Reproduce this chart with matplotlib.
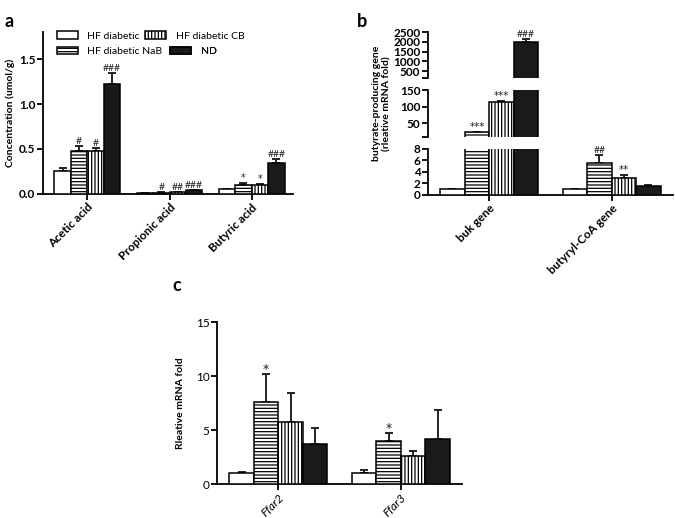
import matplotlib
matplotlib.use("Agg")
import matplotlib.pyplot as plt
import numpy as np

plt.rcParams['font.family'] = ['Lato', 'DejaVu Sans']
plt.rcParams['hatch.linewidth'] = 0.9

groups = ["HF diabetic", "HF diabetic NaB", "HF diabetic CB", "ND"]
hatches = ["", "-----", "|||||", ""]
faces = ["white", "white", "white", "#1a1a1a"]

# Panel a
a_cats = ["Acetic acid", "Propionic acid", "Butyric acid"]
a_vals = {
    "HF diabetic": [0.25, 0.01, 0.05],
    "HF diabetic NaB": [0.48, 0.015, 0.10],
    "HF diabetic CB": [0.48, 0.02, 0.10],
    "ND": [1.22, 0.04, 0.345],
}
a_err = {
    "HF diabetic": [0.04, 0.002, 0.01],
    "HF diabetic NaB": [0.05, 0.003, 0.02],
    "HF diabetic CB": [0.035, 0.003, 0.012],
    "ND": [0.12, 0.006, 0.04],
}
a_marks = {
    "HF diabetic": ["", "", ""],
    "HF diabetic NaB": ["#", "#", "*"],
    "HF diabetic CB": ["#", "##", "*"],
    "ND": ["###", "###", "###"],
}

# Panel b
b_cats = ["buk gene", "butyryl-CoA gene"]
b_vals = {
    "HF diabetic": [1.0, 1.0],
    "HF diabetic NaB": [22, 5.6],
    "HF diabetic CB": [114, 2.9],
    "ND": [1980, 1.5],
}
b_err = {
    "HF diabetic": [0.1, 0.12],
    "HF diabetic NaB": [1.5, 1.4],
    "HF diabetic CB": [3, 0.5],
    "ND": [150, 0.2],
}
b_marks = {
    "HF diabetic": ["", ""],
    "HF diabetic NaB": ["***", "##"],
    "HF diabetic CB": ["***", "**"],
    "ND": ["###", ""],
}

# Panel c
c_cats = ["Ffar2", "Ffar3"]
c_vals = {
    "HF diabetic": [1.05, 1.05],
    "HF diabetic NaB": [7.6, 3.95],
    "HF diabetic CB": [5.75, 2.55],
    "ND": [3.75, 4.15],
}
c_err = {
    "HF diabetic": [0.1, 0.25],
    "HF diabetic NaB": [2.55, 0.75],
    "HF diabetic CB": [2.65, 0.55],
    "ND": [1.45, 2.7],
}
c_marks = {
    "HF diabetic": ["", ""],
    "HF diabetic NaB": ["*", "*"],
    "HF diabetic CB": ["", ""],
    "ND": ["", ""],
}

fig = plt.figure(figsize=(6.75, 5.18), dpi=100)

width = 0.2
offsets = [-1.5 * width, -0.5 * width, 0.5 * width, 1.5 * width]


def mark_font(m):
    return ['Lato'] if '#' in m else ['DejaVu Sans']


def style_ax(ax, bottom=True):
    ax.spines['top'].set_visible(False)
    ax.spines['right'].set_visible(False)
    ax.spines['left'].set_linewidth(1.3)
    ax.spines['bottom'].set_linewidth(1.3)
    if not bottom:
        ax.spines['bottom'].set_visible(False)
        ax.tick_params(axis='x', bottom=False, labelbottom=False)
    ax.tick_params(axis='both', direction='out', length=4, width=1.3, labelsize=8.5, pad=1.5)
    for lab in ax.get_yticklabels():
        lab.set_fontweight('bold')


def draw_bars(ax, cats, vals, errs, marks, capsize, hash_size, star_size, mark_pad,
              annotate=True, seg=None):
    x = np.arange(len(cats))
    handles = []
    for i, g in enumerate(groups):
        xs = x + offsets[i]
        h = ax.bar(xs, vals[g], width, color=faces[i], edgecolor="black",
                   hatch=hatches[i], linewidth=1.1, zorder=3, label=g)
        handles.append(h)
        for xi, v, e in zip(xs, vals[g], errs[g]):
            if seg is not None and not (seg[0] < v <= seg[1]):
                continue
            ax.errorbar([xi], [v], yerr=[[0], [e]], fmt='none',
                        ecolor='#222222', elinewidth=1.4,
                        capsize=capsize, capthick=1.4, zorder=2)
        if annotate:
            for xi, v, e, m in zip(xs, vals[g], errs[g], marks[g]):
                if m:
                    ax.annotate(m, (xi, v + e), xytext=(0, mark_pad), textcoords='offset points',
                                ha='center', va='bottom',
                                fontsize=hash_size if '#' in m else star_size,
                                color='#222222', family=mark_font(m))
    return handles


# ---- Panel a ----
axa = fig.add_axes([0.0637, 0.6255, 0.370, 0.3127])
ha = draw_bars(axa, a_cats, a_vals, a_err, a_marks, 3, 7.5, 7, 0)
axa.set_xlim(-0.54, 2.5)
axa.set_ylim(0, 1.8)
axa.set_yticks([0.0, 0.5, 1.0, 1.5])
axa.set_yticklabels(["0.0", "0.5", "1.0", "1.5"])
axa.set_xticks(np.arange(len(a_cats)))
axa.set_xticklabels(a_cats, rotation=45, ha='right', rotation_mode='anchor',
                    fontsize=8.5, fontweight='bold')
style_ax(axa)
axa.set_ylabel("Concentration (umol/g)", fontsize=7.5, fontweight='bold', labelpad=3)
leg_kw = dict(loc='center left', frameon=False, fontsize=7.5, handlelength=2.0,
              handleheight=0.75, handletextpad=0.9, borderaxespad=0, borderpad=0)
leg_pos = [(0.055, 0.975), (0.055, 0.88), (0.41, 0.975), (0.51, 0.88)]
for k in range(4):
    lg = axa.legend([ha[k]], [groups[k]], bbox_to_anchor=leg_pos[k], **leg_kw)
    axa.add_artist(lg)

# ---- Panel b (broken axis) ----
b_left, b_w = 0.634, 0.363
axb3 = fig.add_axes([b_left, 0.8494, b_w, 0.0888])
axb2 = fig.add_axes([b_left, 0.7355, b_w, 0.0907])
axb1 = fig.add_axes([b_left, 0.6236, b_w, 0.0888])

segs = [
    (axb3, (150, 2500), [150, 500, 1000, 1500, 2000, 2500], ["", "500", "1000", "1500", "2000", "2500"], False),
    (axb2, (8, 150), [8, 50, 100, 150], ["", "50", "100", "150"], False),
    (axb1, (0, 8), [0, 2, 4, 6, 8], ["0", "2", "4", "6", "8"], True),
]
for ax, lim, ticks, labels, bottom in segs:
    draw_bars(ax, b_cats, b_vals, b_err, b_marks, 3, 7, 7, 0, annotate=False,
              seg=(lim[0] if lim[0] > 0 else -1, lim[1]))
    ax.set_xlim(-0.5, 1.5)
    ax.set_ylim(*lim)
    ax.set_yticks(ticks)
    ax.set_yticklabels(labels)
    ax.set_xticks(np.arange(len(b_cats)))
    ax.set_xticklabels(b_cats, rotation=45, ha='right', rotation_mode='anchor',
                       fontsize=8.5, fontweight='bold')
    style_ax(ax, bottom=bottom)

# annotations for panel b on the segment holding the bar top
xb = np.arange(len(b_cats))
for i, g in enumerate(groups):
    for j in range(len(b_cats)):
        m = b_marks[g][j]
        if not m:
            continue
        top = b_vals[g][j] + b_err[g][j]
        ax = axb3 if top > 150 else (axb2 if top > 8 else axb1)
        ax.annotate(m, (xb[j] + offsets[i], top), xytext=(0, 0), textcoords='offset points',
                    ha='center', va='bottom', fontsize=7.5,
                    color='#222222', family=mark_font(m), annotation_clip=False)

fig.text(0.566, 0.80, "butyrate-producing gene\n(rleative mRNA fold)", rotation=90,
         ha='center', va='center', fontsize=7.5, fontweight='bold', linespacing=1.2)

# ---- Panel c ----
axc = fig.add_axes([0.3215, 0.0656, 0.363, 0.3127])
draw_bars(axc, c_cats, c_vals, c_err, c_marks, 3, 9, 9, -1)
axc.set_xlim(-0.5, 1.5)
axc.set_ylim(0, 15)
axc.set_yticks([0, 5, 10, 15])
axc.set_xticks(np.arange(len(c_cats)))
axc.set_xticklabels(c_cats, rotation=45, ha='right', rotation_mode='anchor',
                    fontsize=8.5, fontstyle='italic')
style_ax(axc)
for lab in axc.get_yticklabels():
    lab.set_fontweight('normal')
axc.set_ylabel("Rleative mRNA fold", fontsize=7.5, fontweight='bold', labelpad=8)

# panel labels
fig.text(0.006, 0.975, "a", fontsize=13, fontweight='bold', va='top')
fig.text(0.528, 0.975, "b", fontsize=13, fontweight='bold', va='top')
fig.text(0.255, 0.465, "c", fontsize=13, fontweight='bold', va='top')

fig.savefig("out.png", dpi=100)
